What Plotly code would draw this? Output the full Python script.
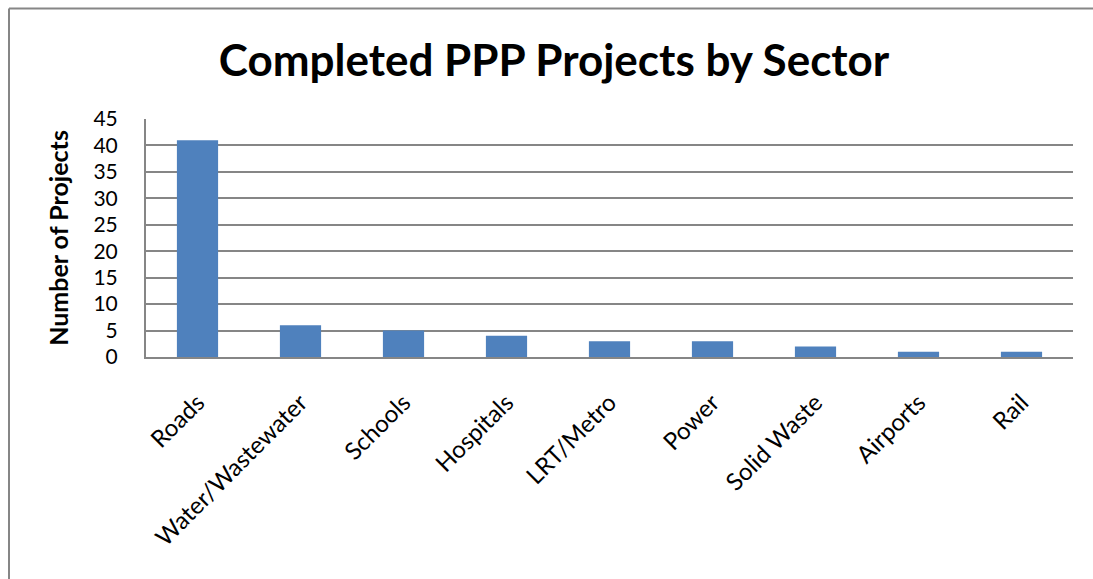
import plotly.graph_objects as go

sectors = ["Roads", "Water/Wastewater", "Schools", "Hospitals", "LRT/Metro",
           "Power", "Solid Waste", "Airports", "Rail"]
projects = [41, 6, 5, 4, 3, 3, 2, 1, 1]
y_ticks = [0, 5, 10, 15, 20, 25, 30, 35, 40, 45]

FONT = "Lato, 'Open Sans', sans-serif"
GRID = "#868686"

# figure size and plot area in pixels
FW, FH = 1093, 579
L, T, W, H = 146, 119, 927, 238

fig = go.Figure(go.Bar(
    x=sectors, y=projects,
    marker=dict(color="#4F81BD", line=dict(width=0)),
))

fig.update_layout(
    width=FW, height=FH,
    margin=dict(l=L, r=FW - L - W, t=T, b=FH - T - H),
    paper_bgcolor="white", plot_bgcolor="white",
    bargap=0.6,
    showlegend=False,
    font=dict(family=FONT, color="black"),
    title=dict(text="<b>Completed PPP Projects by Sector</b>",
               x=554 / FW, xanchor="center", y=1 - 61 / FH, yanchor="middle",
               font=dict(size=44, family=FONT, color="black")),
)

fig.update_yaxes(
    range=[0, 45], tickvals=y_ticks,
    showgrid=True, gridcolor=GRID, gridwidth=1.5,
    showline=True, linecolor=GRID, linewidth=2,
    ticks="", ticklabelstandoff=22,
    tickfont=dict(size=21, family=FONT, color="black"),
    title=dict(text="<b>Number of Projects</b>", standoff=18,
               font=dict(size=25, family=FONT, color="black")),
    zeroline=False,
)
fig.update_xaxes(
    showline=True, linecolor=GRID, linewidth=2,
    ticks="", tickangle=-45, ticklabelstandoff=20,
    tickfont=dict(size=24, family=FONT, color="black"),
)

# outer chart border (top and left edges; right/bottom lie outside the view)
fig.add_shape(type="line", xref="paper", yref="paper",
              x0=(9 - L) / W, x1=(1300 - L) / W,
              y0=(T + H - 8.5) / H, y1=(T + H - 8.5) / H,
              line=dict(color=GRID, width=2), layer="below")
fig.add_shape(type="line", xref="paper", yref="paper",
              x0=(9 - L) / W, x1=(9 - L) / W,
              y0=(T + H - 8.5) / H, y1=(T + H - 700) / H,
              line=dict(color=GRID, width=2), layer="below")

fig.write_html(
    "out.html",
    config={"displayModeBar": False},
    post_script="document.body.style.margin='0';document.body.style.overflow='hidden';",
)
